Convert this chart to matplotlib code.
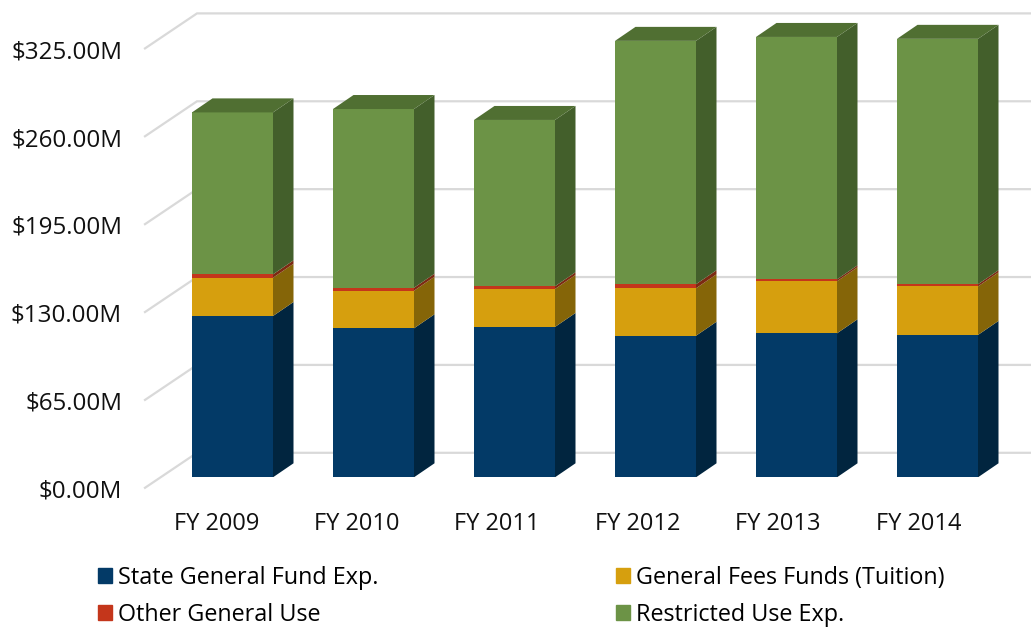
import matplotlib
matplotlib.use("Agg")
import matplotlib.pyplot as plt
from matplotlib.patches import Polygon, Patch
from matplotlib.transforms import ScaledTranslation

# ---- data (millions of dollars) ----
years = ["FY 2009", "FY 2010", "FY 2011", "FY 2012", "FY 2013", "FY 2014"]
state_fund = [119.3, 110.2, 111.2, 104.7, 106.5, 105.3]
fees_funds = [28.3, 27.8, 28.1, 35.1, 38.5, 35.9]
other_use = [2.5, 2.2, 2.0, 3.0, 1.4, 1.6]
restricted = [119.8, 132.2, 123.0, 180.0, 179.3, 181.5]
y_ticks = [0, 65, 130, 195, 260, 325]
y_labels = ["$0.00M", "$65.00M", "$130.00M", "$195.00M", "$260.00M", "$325.00M"]
series_names = ["State General Fund Exp.", "Other General Use",
                "General Fees Funds (Tuition)", "Restricted Use Exp."]

# ---- style ----
W, H = 1031, 628
FONT = "Open Sans"
front = ["#033A67", "#D69F0E", "#C4361B", "#6C9346"]
side = ["#01253F", "#856508", "#7C2A12", "#435F2B"]
top_col = "#506F32"
grid_col = "#D9D9D9"
PX_PER_M = 1.352
PX_PER_CAT = 141.0
BASE_PX = 477.3
C0 = 232.5
BAR_W = 81 / PX_PER_CAT
DX = 20.5 / PX_PER_CAT
DY = 14 / PX_PER_M

plt.rcParams["font.family"] = [FONT, "DejaVu Sans"]
fig = plt.figure(figsize=(W / 100, H / 100), dpi=100)
ax = fig.add_axes([145 / W, 1 - BASE_PX / H, (W - 145) / W, BASE_PX / H])
ax.set_xlim((145 - C0) / PX_PER_CAT, (W - C0) / PX_PER_CAT)
ax.set_ylim(0, BASE_PX / PX_PER_M)
for s in ax.spines.values():
    s.set_visible(False)

# back wall grid with floor diagonals
back_off = 24.5 / PX_PER_M
front_off = -10.5 / PX_PER_M
x_front = (145 - C0) / PX_PER_CAT
x_back = (197 - C0) / PX_PER_CAT
x_end = (W - C0) / PX_PER_CAT
for t in y_ticks:
    ax.plot([x_front, x_back, x_end], [t + front_off, t + back_off, t + back_off],
            color=grid_col, lw=1.6, clip_on=False, zorder=1, solid_joinstyle="miter")

# stacked bars with fake depth
stacks = [state_fund, fees_funds, other_use, restricted]
bottoms = [0.0] * len(years)
for k, vals in enumerate(stacks):
    xs = list(range(len(years)))
    ax.bar(xs, vals, BAR_W, bottom=bottoms, color=front[k], linewidth=0, zorder=3)
    for i, v in enumerate(vals):
        xr = i + BAR_W / 2
        b = bottoms[i]
        ax.add_patch(Polygon([(xr, b), (xr + DX, b + DY), (xr + DX, b + v + DY), (xr, b + v)],
                             closed=True, fc=side[k], ec="none", zorder=3))
        if k == len(stacks) - 1:
            xl = i - BAR_W / 2
            t = b + v
            ax.add_patch(Polygon([(xl, t), (xl + DX, t + DY), (xr + DX, t + DY), (xr, t)],
                                 closed=True, fc=top_col, ec="none", zorder=3))
    bottoms = [b + v for b, v in zip(bottoms, vals)]

# axis labels, offset to the front plane of the fake 3-D box
ax.set_xticks(range(len(years)))
ax.set_xticklabels(years, fontsize=17, color="#111111")
ax.set_yticks(y_ticks)
ax.set_yticklabels(y_labels, fontsize=17.4, color="#111111")
ax.tick_params(axis="x", length=0, pad=25.3)
ax.tick_params(axis="y", length=0, pad=16.5)
for i, lab in enumerate(ax.get_xticklabels()):
    lab.set_transform(lab.get_transform() + ScaledTranslation((-16 - 0.6 * i) / 100, 0, fig.dpi_scale_trans))
for lab in ax.get_yticklabels():
    lab.set_transform(lab.get_transform() + ScaledTranslation(0, -11.3 / 100, fig.dpi_scale_trans))

# legend
handles = [Patch(color=front[0], label=series_names[0]),
           Patch(color=front[2], label=series_names[1]),
           Patch(color=front[1], label=series_names[2]),
           Patch(color=front[3], label=series_names[3])]
fig.legend(handles=handles, ncol=2, frameon=False, fontsize=16.8,
           loc="upper left", bbox_to_anchor=(98 / W, 1 - 566 / H),
           borderaxespad=0, borderpad=0, handlelength=0.6, handleheight=0.6,
           handletextpad=0.26, columnspacing=10.18, labelspacing=0.56)

fig.savefig("out.png", dpi=100, facecolor="white")
